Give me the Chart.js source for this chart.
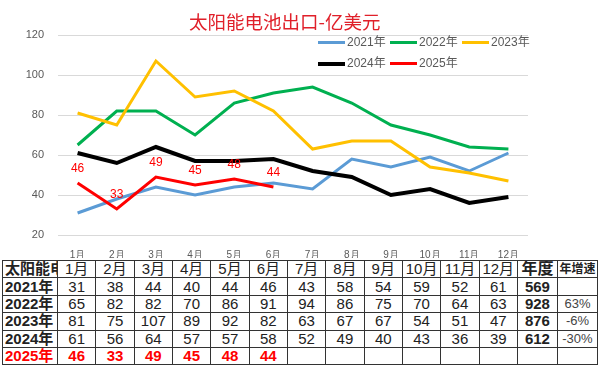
<!DOCTYPE html>
<html>
<head>
<meta charset="utf-8">
<script src="https://cdn.jsdelivr.net/npm/chart.js@4/dist/chart.umd.min.js"></script>
<style>
  html, body { margin: 0; padding: 0; background: #fff; }
  body { width: 600px; height: 365px; position: relative; overflow: hidden;
         font-family: "Liberation Sans", Arial, "Noto Sans CJK SC", sans-serif; }
  #wrap { position: absolute; left: 0; top: 0; width: 600px; height: 258px; }
  #title { position: absolute; left: 189px; top: 8px; font-size: 18.5px; color: #e0202a; line-height: 27px;
           font-family: "Noto Sans CJK SC", sans-serif; white-space: nowrap; }
  #legend { position: absolute; left: 318px; top: 32px; width: 230px; }
  .lg { position: absolute; font-size: 12px; color: #595959; white-space: nowrap;
        font-family: "Liberation Sans", "Noto Sans CJK SC", sans-serif; }
  .lg i { display: inline-block; width: 27px; height: 3px; vertical-align: middle; margin-right: 2px; }
  table { position: absolute; left: 2px; top: 260px; width: 595px; border-collapse: collapse; table-layout: fixed; }
  tr { height: 17.4px; }
  td { border: 1px solid #333; padding: 0; text-align: center; font-size: 15px;
       color: #222; line-height: 14px; overflow: hidden; white-space: nowrap; }
  td.h { font-weight: bold; text-align: left; padding-left: 2px; text-overflow: clip; }
  td.y { font-weight: bold; }
  td.g { font-size: 13px; color: #444; }
  tr.r25 td { color: #ff0000; font-weight: bold; }
</style>
</head>
<body>
<div id="wrap"><canvas id="c" width="600" height="258"></canvas></div>
<div id="title">太阳能电池出口-亿美元</div>
<div id="legend"></div>
<table id="tbl"></table>
<script>
(function () {
  "use strict";

  // ---------- Data ----------
  const MONTHS = ["1月", "2月", "3月", "4月", "5月", "6月", "7月", "8月", "9月", "10月", "11月", "12月"];
  const YEARS = ["2021年", "2022年", "2023年", "2024年", "2025年"];
  const V2021 = [31, 38, 44, 40, 44, 46, 43, 58, 54, 59, 52, 61];
  const V2022 = [65, 82, 82, 70, 86, 91, 94, 86, 75, 70, 64, 63];
  const V2023 = [81, 75, 107, 89, 92, 82, 63, 67, 67, 54, 51, 47];
  const V2024 = [61, 56, 64, 57, 57, 58, 52, 49, 40, 43, 36, 39];
  const V2025 = [46, 33, 49, 45, 48, 44];
  const TOTALS = [569, 928, 876, 612, null];
  const GROWTH = ["", "63%", "-6%", "-30%", ""];
  const Y_TICKS = [20, 40, 60, 80, 100, 120];

  const COLORS = ["#5b9bd5", "#00b050", "#ffc000", "#000000", "#ff0000"];
  const WIDTHS = [3, 3, 3, 4, 3];
  const SERIES = [V2021, V2022, V2023, V2024, V2025];

  // ---------- Legend (HTML) ----------
  const lgPos = [[0, 0], [72, 0], [144, 0], [0, 21], [72, 21]];
  const lg = document.getElementById("legend");
  YEARS.forEach((y, i) => {
    const d = document.createElement("div");
    d.className = "lg";
    d.style.left = lgPos[i][0] + "px";
    d.style.top = lgPos[i][1] + "px";
    d.innerHTML = '<i style="background:' + COLORS[i] + ';height:' + WIDTHS[i] + 'px"></i>' + y;
    lg.appendChild(d);
  });

  // ---------- Chart ----------
  const redLabels = {
    id: "redLabels",
    afterDatasetsDraw(chart) {
      const meta = chart.getDatasetMeta(4);
      const ctx = chart.ctx;
      ctx.save();
      ctx.font = "12px 'Liberation Sans', Arial, sans-serif";
      ctx.fillStyle = "#ff0000";
      ctx.textAlign = "center";
      ctx.textBaseline = "middle";
      meta.data.forEach((p, i) => ctx.fillText(String(V2025[i]), p.x, p.y - 14));
      ctx.restore();
    },
  };

  new Chart(document.getElementById("c"), {
    type: "line",
    data: {
      labels: MONTHS,
      datasets: SERIES.map((s, i) => ({
        label: YEARS[i],
        data: s,
        borderColor: COLORS[i],
        backgroundColor: COLORS[i],
        borderWidth: WIDTHS[i],
        pointRadius: 0,
        tension: 0,
        fill: false,
        order: i === 4 ? 0 : 5 - i,
      })),
    },
    options: {
      responsive: false,
      animation: false,
      layout: { padding: { top: 35, right: 72, left: 0, bottom: 0 } },
      plugins: { legend: { display: false }, tooltip: { enabled: false } },
      scales: {
        x: {
          offset: true,
          grid: { display: false },
          border: { display: false },
          ticks: { color: "#595959", font: { size: 10 }, padding: 6, maxRotation: 0, autoSkip: false },
          afterFit: (s) => { s.height = 23; },
        },
        y: {
          min: 20,
          max: 120,
          afterBuildTicks: (s) => { s.ticks = Y_TICKS.map((v) => ({ value: v })); },
          grid: { color: "#d9d9d9", drawTicks: false },
          border: { display: false },
          ticks: { color: "#595959", font: { size: 11 }, padding: 14 },
          afterFit: (s) => { s.width = 58; },
        },
      },
    },
    plugins: [redLabels],
  });

  // ---------- Table ----------
  const tbl = document.getElementById("tbl");
  const cg = document.createElement("colgroup");
  const widths = [55].concat(MONTHS.map(() => 38.33), [40, 40]);
  widths.forEach((w) => {
    const c = document.createElement("col");
    c.style.width = w + "px";
    cg.appendChild(c);
  });
  tbl.appendChild(cg);

  let html = '<tr><td class="h">太阳能电池</td>';
  MONTHS.forEach((m) => (html += "<td>" + m + "</td>"));
  html += '<td class="y" style="font-size:16px">年度</td><td class="y" style="font-size:12px">年增速</td></tr>';
  YEARS.forEach((y, i) => {
    html += '<tr' + (i === 4 ? ' class="r25"' : "") + '><td class="h">' + y + "</td>";
    MONTHS.forEach((_, j) => {
      const v = SERIES[i][j];
      html += "<td>" + (v == null ? "" : v) + "</td>";
    });
    html += '<td class="y">' + (TOTALS[i] == null ? "" : TOTALS[i]) + '</td><td class="g">' + GROWTH[i] + "</td></tr>";
  });
  tbl.insertAdjacentHTML("beforeend", html);
})();
</script>
</body>
</html>
